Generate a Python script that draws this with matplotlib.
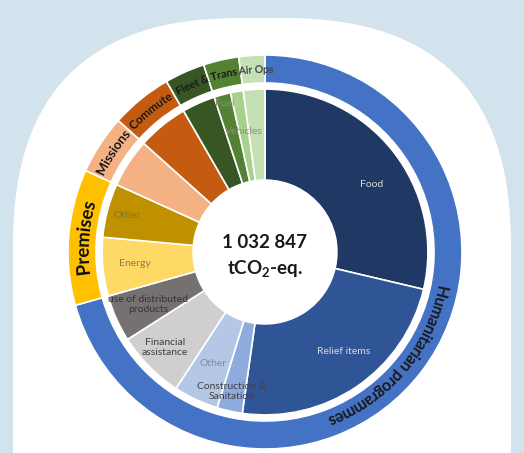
import numpy as np
import matplotlib.pyplot as plt
from matplotlib.patches import FancyBboxPatch, PathPatch
from matplotlib.font_manager import FontProperties
from matplotlib.textpath import TextPath
from matplotlib.path import Path

plt.rcParams['font.family'] = ['Lato', 'DejaVu Sans']

# --- data (tCO2-eq) ---
sub_names = ['Food', 'Relief items', 'Construction & Sanitation', 'Other',
             'Financial assistance', 'Use of distributed products',
             'Energy', 'Other', 'Missions', 'Commute',
             'Fleet', 'Fuel', 'Other fleet', 'Vehicles']
sub_values = [296000, 243000, 26000, 46000, 70000, 48000,
              60000, 55000, 50000, 52000,
              34000, 17000, 13000, 22000]
sub_labels = ['Food', 'Relief items', 'Construction &\nSanitation', 'Other',
              'Financial\nassistance', 'use of distributed\nproducts',
              'Energy', 'Other', '', '', '', 'Fuel', '', 'Vehicles']

group_labels = ['Humanitarian programmes', 'Premises', 'Missions', 'Commute',
                'Fleet & Trans', '', 'Air Ops']
group_sizes = [6, 2, 1, 1, 1, 2, 1]   # number of inner slices in each group
total_text = '1 032 847'

# --- styles ---
sub_colors = ['#1f3864', '#2f5597', '#8faadc', '#b4c7e7', '#d0cece', '#767171',
              '#ffd966', '#bf9000', '#f4b183', '#c55a11',
              '#375623', '#548235', '#a9d18e', '#c5e0b4']
sub_text_colors = ['#d9d9d9', '#d9d9d9', '#404040', '#7f8aa0', '#404040', '#333333',
                   '#8a7d50', '#7f7440', '', '', '', '#8c8c8c', '', '#8c8c8c']
label_r = [0.64, 0.645, 0.73, 0.625, 0.70, 0.65, 0.665, 0.725, 0, 0, 0, 0.78, 0, 0.62]
label_nudge = [-6, 4, -1, 0, -1, 0, 0, 0, 0, 0, 0, 0, 0, 6]

group_colors = ['#4472c4', '#ffc000', '#f4b183', '#c55a11', '#375623', '#548235', '#c5e0b4']
# (size, weight, colour, extra stroke)
group_text = [(11.5, 'normal', '#1a1a1a', 0.35), (13.5, 'bold', '#111111', 0),
              (9.5, 'bold', '#1a1a1a', 0), (8.5, 'bold', '#1a1a1a', 0),
              (7.8, 'bold', '#1a1a1a', 0), None, (7.5, 'normal', '#404040', 0.2)]
group_nudge = [-3, 0, 0, 0, 0, 0, -1]

fig = plt.figure(figsize=(5.24, 4.53), dpi=100, facecolor='#d3e3ed')

# white arch behind the chart
bg = fig.add_axes([0, 0, 1, 1])
bg.set_xlim(0, 524)
bg.set_ylim(453, 0)
bg.axis('off')
bg.add_patch(FancyBboxPatch((13, 18), 498, 700, boxstyle='round,pad=0,rounding_size=225',
                            fc='white', ec='none'))

# donut axes: centre at (265, 252) px, outer radius 197 px
cx, cy, R = 265, 453 - 252, 197
ax = fig.add_axes([(cx - R) / 524, (cy - R) / 453, 2 * R / 524, 2 * R / 453])
ax.patch.set_alpha(0)

outer_values = []
i = 0
for n in group_sizes:
    outer_values.append(sum(sub_values[i:i + n]))
    i += n

ax.pie(outer_values, radius=1, colors=group_colors, startangle=90, counterclock=False,
       wedgeprops=dict(width=0.142, edgecolor='white', linewidth=1.2))
ax.pie(sub_values, radius=0.827, colors=sub_colors, startangle=90, counterclock=False,
       wedgeprops=dict(width=0.462, edgecolor='white', linewidth=1.2))
ax.set_xlim(-1, 1)
ax.set_ylim(-1, 1)
ax.axis('off')

total = sum(sub_values)


def mid_angles(values):
    c = np.cumsum([0] + list(values))
    return [90 - 360 * (c[k] + c[k + 1]) / 2 / total for k in range(len(values))]


# inner labels
for ang, r, nd, lab, col in zip(mid_angles(sub_values), label_r, label_nudge, sub_labels, sub_text_colors):
    if not lab:
        continue
    a = np.radians(ang + nd)
    ax.text(r * np.cos(a), r * np.sin(a), lab, ha='center', va='center',
            fontsize=7.5, color=col, linespacing=1.1)

# curved labels on the outer ring (text path bent around the circle, read clockwise)
scale = ax.transData.transform((1, 0))[0] - ax.transData.transform((0, 0))[0]


def curved_text(text, theta, r, size, weight, color, stroke):
    fp = FontProperties(family=['Lato', 'DejaVu Sans'], size=size, weight=weight)
    px = size * 100 / 72
    tp = TextPath((0, 0), text, size=px, prop=fp)
    ext = tp.get_extents()
    v = tp.vertices
    xmid = (ext.x0 + ext.x1) / 2
    rpx = r * scale
    cap = px * 0.72
    ang = np.radians(theta) - (v[:, 0] - xmid) / rpx
    rr = (rpx - cap / 2 + v[:, 1]) / scale
    verts = np.column_stack([rr * np.cos(ang), rr * np.sin(ang)])
    ax.add_patch(PathPatch(Path(verts, tp.codes), fc=color, ec=color if stroke else 'none',
                           lw=stroke))


c = np.cumsum([0] + outer_values)
for k, lab in enumerate(group_labels):
    if not lab:
        continue
    end = k + 2 if (k + 1 < len(group_labels) and group_labels[k + 1] == '') else k + 1
    ang = 90 - 360 * (c[k] + c[end]) / 2 / total + group_nudge[k]
    size, weight, col, stroke = group_text[k]
    curved_text(lab, ang, 0.929, size, weight, col, stroke)

# centre total
ax.text(0, 0.05, total_text, ha='center', va='center', fontsize=13.5, fontweight='bold', color='#1a1a1a')
ax.text(0, -0.09, r'tCO$_\mathregular{2}$-eq.', ha='center', va='center', fontsize=13.5,
        fontweight='bold', color='#1a1a1a')

fig.savefig('out.png', dpi=100, facecolor=fig.get_facecolor())
